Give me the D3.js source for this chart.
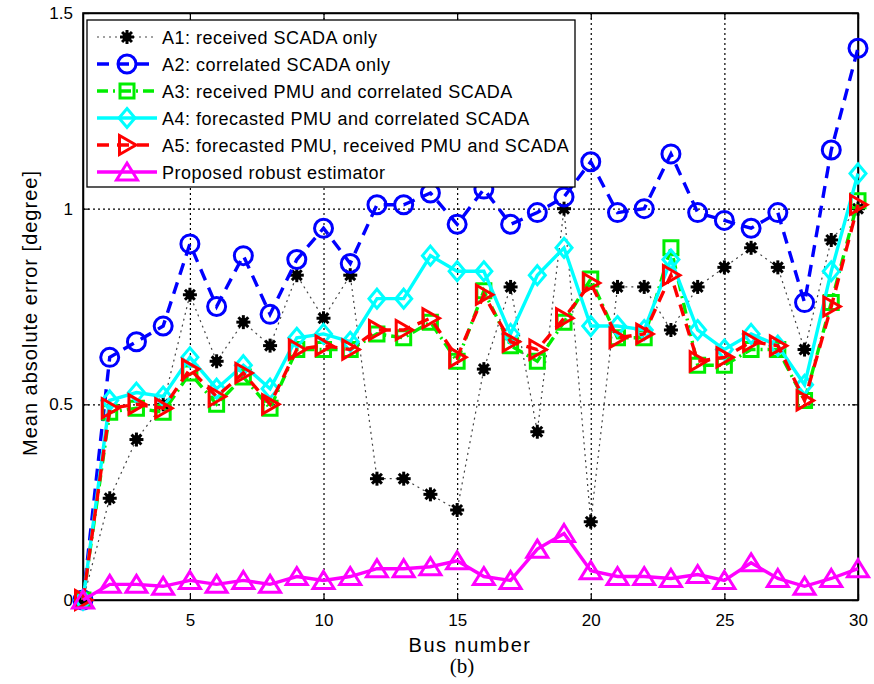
<!DOCTYPE html>
<html lang="en">
<head>
<meta charset="UTF-8">
<title>Mean absolute error per bus</title>
<script src="https://d3js.org/d3.v7.min.js"></script>
<style>
    body { margin: 0; background: #fff; }
    svg { display: block; font-family: 'Liberation Sans', Arial, sans-serif; }
    .tick text { font-size: 17px; fill: #000; }
    .grid line { stroke: #000; stroke-dasharray: 2,3; stroke-width: 1.2; }
    .grid path { display: none; }
</style>
</head>
<body>
<svg id="chart" width="874" height="684"></svg>
<script>
    // Bus numbers 1..30
    const buses = [1,2,3,4,5,6,7,8,9,10,11,12,13,14,15,16,17,18,19,20,21,22,23,24,25,26,27,28,29,30];

    const a1 = [0, 0.26, 0.41, 0.50, 0.78, 0.61, 0.71, 0.65, 0.83, 0.72, 0.83, 0.31, 0.31, 0.27, 0.23,
                0.59, 0.80, 0.43, 1.00, 0.20, 0.80, 0.80, 0.69, 0.80, 0.85, 0.90, 0.85, 0.64, 0.92, 1.00];
    const a2 = [0, 0.62, 0.66, 0.70, 0.91, 0.75, 0.88, 0.73, 0.87, 0.95, 0.86, 1.01, 1.01, 1.04, 0.96,
                1.05, 0.96, 0.99, 1.03, 1.12, 0.99, 1.00, 1.14, 0.99, 0.97, 0.95, 0.99, 0.76, 1.15, 1.41];
    const a3 = [0, 0.48, 0.49, 0.48, 0.58, 0.50, 0.57, 0.49, 0.64, 0.64, 0.64, 0.68, 0.67, 0.71, 0.61,
                0.79, 0.65, 0.61, 0.71, 0.82, 0.67, 0.67, 0.90, 0.60, 0.60, 0.64, 0.64, 0.51, 0.76, 1.02];
    const a4 = [0, 0.51, 0.53, 0.52, 0.62, 0.54, 0.60, 0.54, 0.67, 0.68, 0.66, 0.77, 0.77, 0.88, 0.84,
                0.84, 0.68, 0.83, 0.90, 0.70, 0.70, 0.69, 0.87, 0.69, 0.64, 0.68, 0.65, 0.55, 0.84, 1.09];
    const a5 = [0, 0.49, 0.50, 0.49, 0.59, 0.52, 0.58, 0.50, 0.64, 0.65, 0.64, 0.69, 0.69, 0.72, 0.62,
                0.78, 0.66, 0.64, 0.72, 0.81, 0.67, 0.68, 0.83, 0.61, 0.62, 0.66, 0.65, 0.51, 0.75, 1.01];
    const robust = [0, 0.04, 0.04, 0.035, 0.05, 0.04, 0.05, 0.04, 0.06, 0.05, 0.06, 0.08, 0.08, 0.085, 0.10,
                    0.06, 0.05, 0.13, 0.17, 0.075, 0.06, 0.06, 0.055, 0.065, 0.05, 0.095, 0.055, 0.035, 0.055, 0.08];

    const xTicks = [5, 10, 15, 20, 25, 30];
    const yTicks = [0, 0.5, 1, 1.5];

    const series = [
        { name: 'A1: received SCADA only', values: a1, color: '#000', width: 1.2, dash: '2,4', lineColor: '#444', marker: 'star' },
        { name: 'A2: correlated SCADA only', values: a2, color: '#0000ff', width: 3.4, dash: '12,8', marker: 'circle' },
        { name: 'A3: received PMU and correlated SCADA', values: a3, color: '#00ee00', width: 3.4, dash: '11,5,2,5', marker: 'square' },
        { name: 'A4: forecasted PMU and correlated SCADA', values: a4, color: '#00ffff', width: 3.4, dash: null, marker: 'diamond' },
        { name: 'A5: forecasted PMU, received PMU and SCADA', values: a5, color: '#ff0000', width: 3.4, dash: '12,8', marker: 'triright' },
        { name: 'Proposed robust estimator', values: robust, color: '#ff00ff', width: 3.4, dash: null, marker: 'triup' }
    ];

    const svg = d3.select('#chart');
    const L = 83, R = 858, T = 13, B = 600;

    const x = d3.scaleLinear().domain([1, 30]).range([L, R]);
    const y = d3.scaleLinear().domain([0, 1.5]).range([B, T]);

    // grid
    svg.append('g').attr('class', 'grid')
        .attr('transform', `translate(0,${B})`)
        .call(d3.axisBottom(x).tickValues(xTicks.slice(0, -1)).tickSize(-(B - T)).tickFormat(''));
    svg.append('g').attr('class', 'grid')
        .attr('transform', `translate(${L},0)`)
        .call(d3.axisLeft(y).tickValues([0.5, 1]).tickSize(-(R - L)).tickFormat(''));

    // axes, ticks inward
    svg.append('g').attr('transform', `translate(0,${B})`)
        .call(d3.axisBottom(x).tickValues(xTicks).tickSizeInner(-6).tickSizeOuter(0).tickPadding(14));
    svg.append('g').attr('transform', `translate(${L},0)`)
        .call(d3.axisLeft(y).tickValues(yTicks).tickFormat(d3.format('')).tickSizeInner(-6).tickSizeOuter(0).tickPadding(10));
    svg.append('g').attr('transform', `translate(0,${T})`)
        .call(d3.axisTop(x).tickValues(xTicks).tickSizeInner(-6).tickSizeOuter(0).tickFormat(''));
    svg.append('g').attr('transform', `translate(${R},0)`)
        .call(d3.axisRight(y).tickValues(yTicks).tickSizeInner(-6).tickSizeOuter(0).tickFormat(''));
    svg.selectAll('.domain').attr('stroke', '#000').attr('stroke-width', 1.5);
    svg.selectAll('.tick line').filter(function () { return !this.closest('.grid'); })
        .attr('stroke', '#000').attr('stroke-width', 1.2);

    svg.append('rect').attr('x', L).attr('y', T).attr('width', R - L).attr('height', B - T)
        .attr('fill', 'none').attr('stroke', '#000').attr('stroke-width', 1.6);

    // marker drawing
    function drawMarker(g, type, color) {
        if (type === 'star') {
            g.append('circle').attr('r', 4.5).attr('fill', color);
            [0, 45, 90, 135].forEach(a => {
                g.append('line').attr('x1', -7).attr('x2', 7)
                    .attr('transform', `rotate(${a})`)
                    .attr('stroke', color).attr('stroke-width', 3);
            });
            return;
        }
        let d;
        if (type === 'circle') d = d3.arc()({ innerRadius: 0, outerRadius: 9, startAngle: 0, endAngle: 2 * Math.PI });
        if (type === 'square') d = 'M-7,-7H7V7H-7Z';
        if (type === 'diamond') d = 'M0,-9.5L8,0L0,9.5L-8,0Z';
        if (type === 'triright') d = 'M-7.5,-9.5L9,0L-7.5,9.5Z';
        if (type === 'triup') d = 'M0,-9L10.5,8L-10.5,8Z';
        g.append('path').attr('d', d).attr('fill', 'none')
            .attr('stroke', color).attr('stroke-width', 3).attr('stroke-linejoin', 'miter');
    }

    const line = d3.line().x((d, i) => x(buses[i])).y(d => y(d));

    series.forEach(s => {
        const g = svg.append('g');
        g.append('path').attr('d', line(s.values))
            .attr('fill', 'none')
            .attr('stroke', s.lineColor || s.color)
            .attr('stroke-width', s.width)
            .attr('stroke-dasharray', s.dash);
        s.values.forEach((v, i) => {
            drawMarker(g.append('g').attr('transform', `translate(${x(buses[i])},${y(v)})`), s.marker, s.color);
        });
    });

    // legend
    const lg = svg.append('g');
    lg.append('rect').attr('x', 87).attr('y', 20).attr('width', 488).attr('height', 167)
        .attr('fill', '#fff').attr('stroke', '#000').attr('stroke-width', 1.3);
    series.forEach((s, i) => {
        const cy = 37 + i * 27;
        lg.append('line').attr('x1', 97).attr('x2', 157).attr('y1', cy).attr('y2', cy)
            .attr('stroke', s.lineColor || s.color).attr('stroke-width', s.width)
            .attr('stroke-dasharray', s.dash);
        drawMarker(lg.append('g').attr('transform', `translate(127,${cy})`), s.marker, s.color);
        lg.append('text').attr('x', 162).attr('y', cy + 7)
            .style('font-size', '18px').style('letter-spacing', '0.5px')
            .text(s.name);
    });

    // axis titles
    svg.append('text').attr('x', 470).attr('y', 652).attr('text-anchor', 'middle')
        .style('font-size', '20px').style('letter-spacing', '1.5px').text('Bus number');
    svg.append('text').attr('x', 462).attr('y', 673).attr('text-anchor', 'middle')
        .style('font-family', "'Liberation Serif', 'Times New Roman', serif").style('font-size', '21px').text('(b)');
    svg.append('text').attr('transform', 'translate(37,313) rotate(-90)').attr('text-anchor', 'middle')
        .style('font-size', '20px').style('letter-spacing', '1px').text('Mean absolute error [degree]');
</script>
</body>
</html>
